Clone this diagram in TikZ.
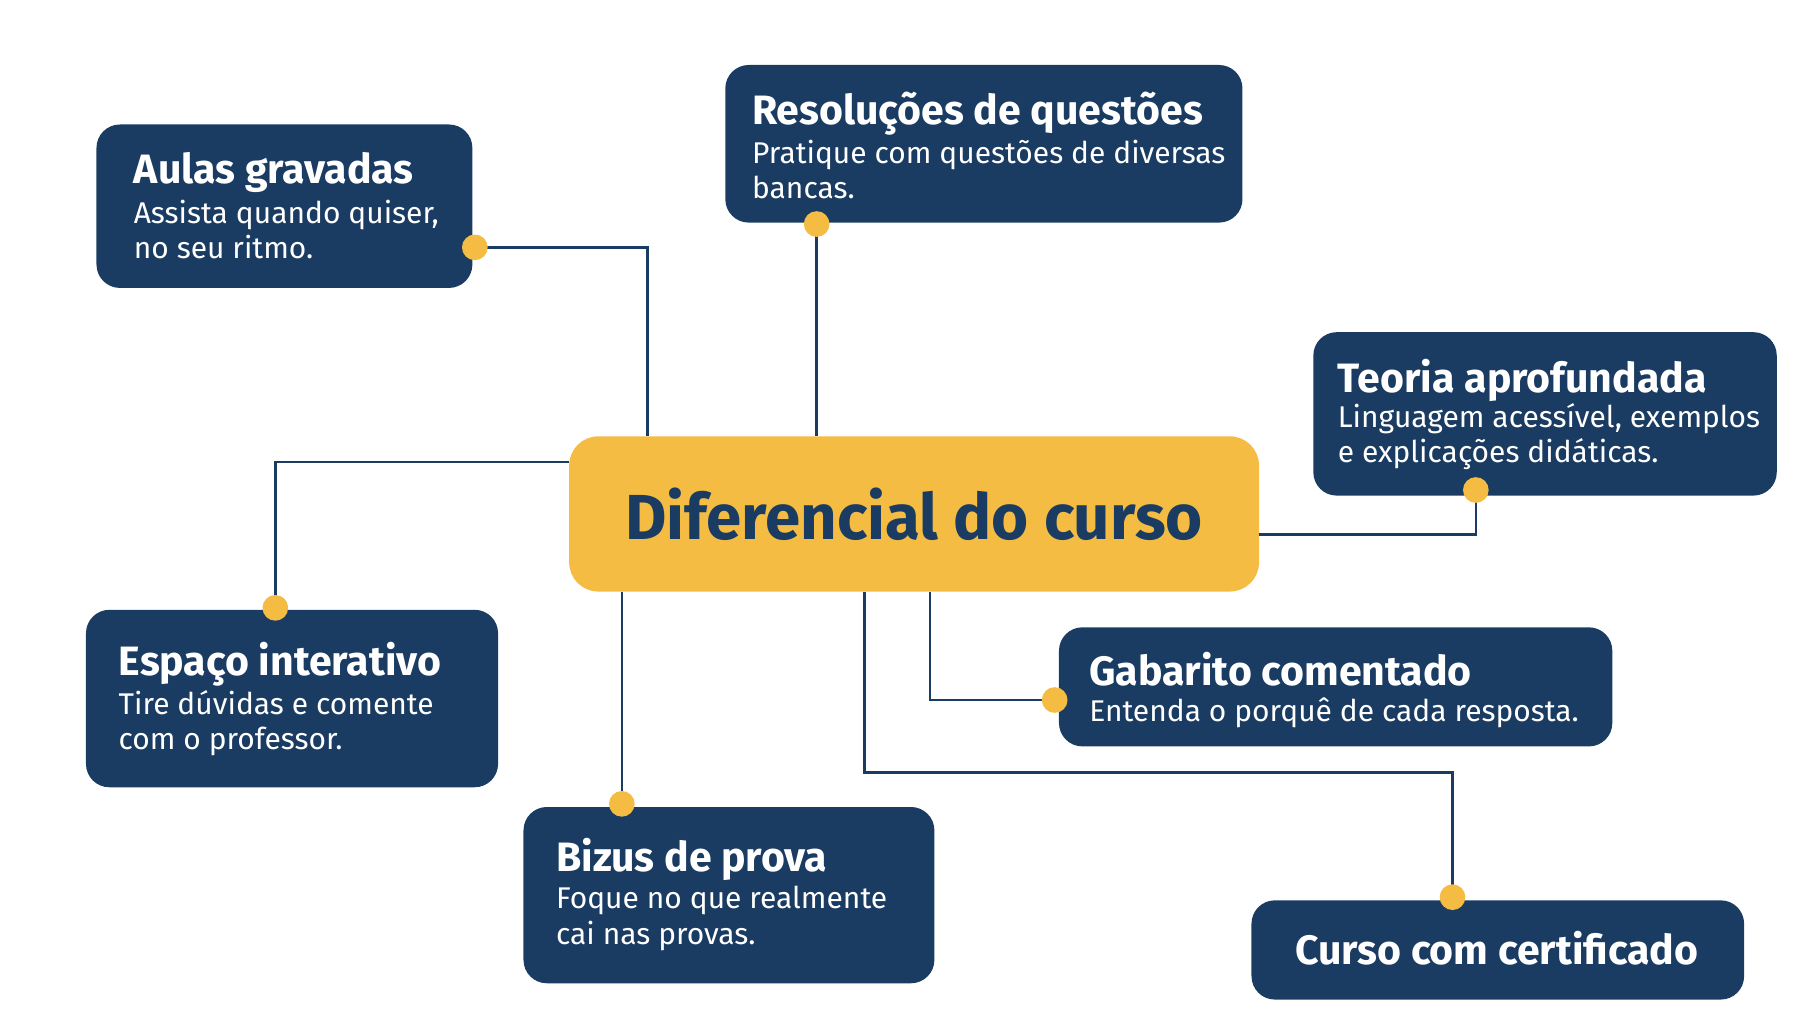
\documentclass[tikz,border=0pt]{standalone}
\usepackage{fontspec}
\setmainfont{Fira Sans}
\usetikzlibrary{positioning}
\definecolor{navy}{HTML}{1B3C62}
\definecolor{gold}{HTML}{F4BC43}
\newcommand{\ttlfont}{\fontsize{10}{12}\selectfont\bfseries}
\newcommand{\dscfont}{\fontsize{7.3}{8.6}\selectfont}
\begin{document}
\begin{tikzpicture}[
            x=0.01cm, y=-0.01cm,
            card/.style={rectangle, fill=navy, text=white, rounded corners=0.2cm, anchor=north west, inner sep=0pt},
            hub/.style={rectangle, fill=gold, text=navy, rounded corners=0.25cm, font=\fontsize{15.5}{18}\selectfont\bfseries},
            ttl/.style={anchor=north west, text=white, inner sep=0pt, font=\ttlfont},
            txt/.style={anchor=north west, text=white, align=left, inner sep=0pt, font=\dscfont},
            dot/.style={circle, fill=gold, inner sep=0pt, minimum size=0.22cm},
            link/.style={draw=navy, line width=0.6pt}
        ]
        \useasboundingbox (0,0) rectangle (1560,878);

        % Cards
        \node[card, minimum width=3.22cm, minimum height=1.40cm] (aulas) at (82,106) {};
        \node[card, minimum width=4.43cm, minimum height=1.35cm] (resol) at (621,55) {};
        \node[card, minimum width=3.97cm, minimum height=1.40cm] (teoria) at (1125,284) {};
        \node[card, minimum width=3.53cm, minimum height=1.52cm] (espaco) at (73,522) {};
        \node[card, minimum width=4.74cm, minimum height=1.02cm] (gabar) at (907,537) {};
        \node[card, minimum width=3.52cm, minimum height=1.51cm] (bizus) at (448,691) {};
        \node[card, minimum width=4.22cm, minimum height=0.85cm] (cert) at (1072,771) {};
        \node[hub, minimum width=5.91cm, minimum height=1.33cm] (hub) at (783.5,440.5) {Diferencial do curso};

        % Connections
        \draw[link] (407,212) -- (555,212) -- (555,374);
        \draw[link] (700,192) -- (700,374);
        \draw[link] (1079,458) -| (1265,420);
        \draw[link] (488,396) -| (236,521);
        \draw[link] (797,507) |- (904,600);
        \draw[link] (533,507) -- (533,689);
        \draw[link] (741,507) -- (741,662) -| (1245,769);

        % Titles
        \node[ttl] (aulasT) at (114,130) {Aulas gravadas};
        \node[ttl] (resolT) at (644,78) {Resoluções de questões};
        \node[ttl] (teoriaT) at (1146,307) {Teoria aprofundada};
        \node[ttl] (espacoT) at (101,550) {Espaço interativo};
        \node[ttl] (gabarT) at (933,558) {Gabarito comentado};
        \node[ttl] (bizusT) at (476,718) {Bizus de prova};
        \node[text=white, font=\ttlfont, inner sep=0pt] (certT) at (1283,813) {Curso com certificado};

        % Descriptions
        \node[txt] at (114,171) {Assista quando quiser,\\no seu ritmo.};
        \node[txt] at (644,119) {Pratique com questões de diversas\\bancas.};
        \node[txt] at (1146,345) {Linguagem acessível, exemplos\\e explicações didáticas.};
        \node[txt] at (101,591) {Tire dúvidas e comente\\com o professor.};
        \node[txt] at (933,597) {Entenda o porquê de cada resposta.};
        \node[txt] at (476,759) {Foque no que realmente\\cai nas provas.};

        % Dots
        \node[dot] (d1) at (407,212) {};
        \node[dot] (d2) at (700,192) {};
        \node[dot] (d3) at (1265,420) {};
        \node[dot] (d4) at (236,521) {};
        \node[dot] (d5) at (904,600) {};
        \node[dot] (d6) at (533,689) {};
        \node[dot] (d7) at (1245,769) {};
\end{tikzpicture}
\end{document}
